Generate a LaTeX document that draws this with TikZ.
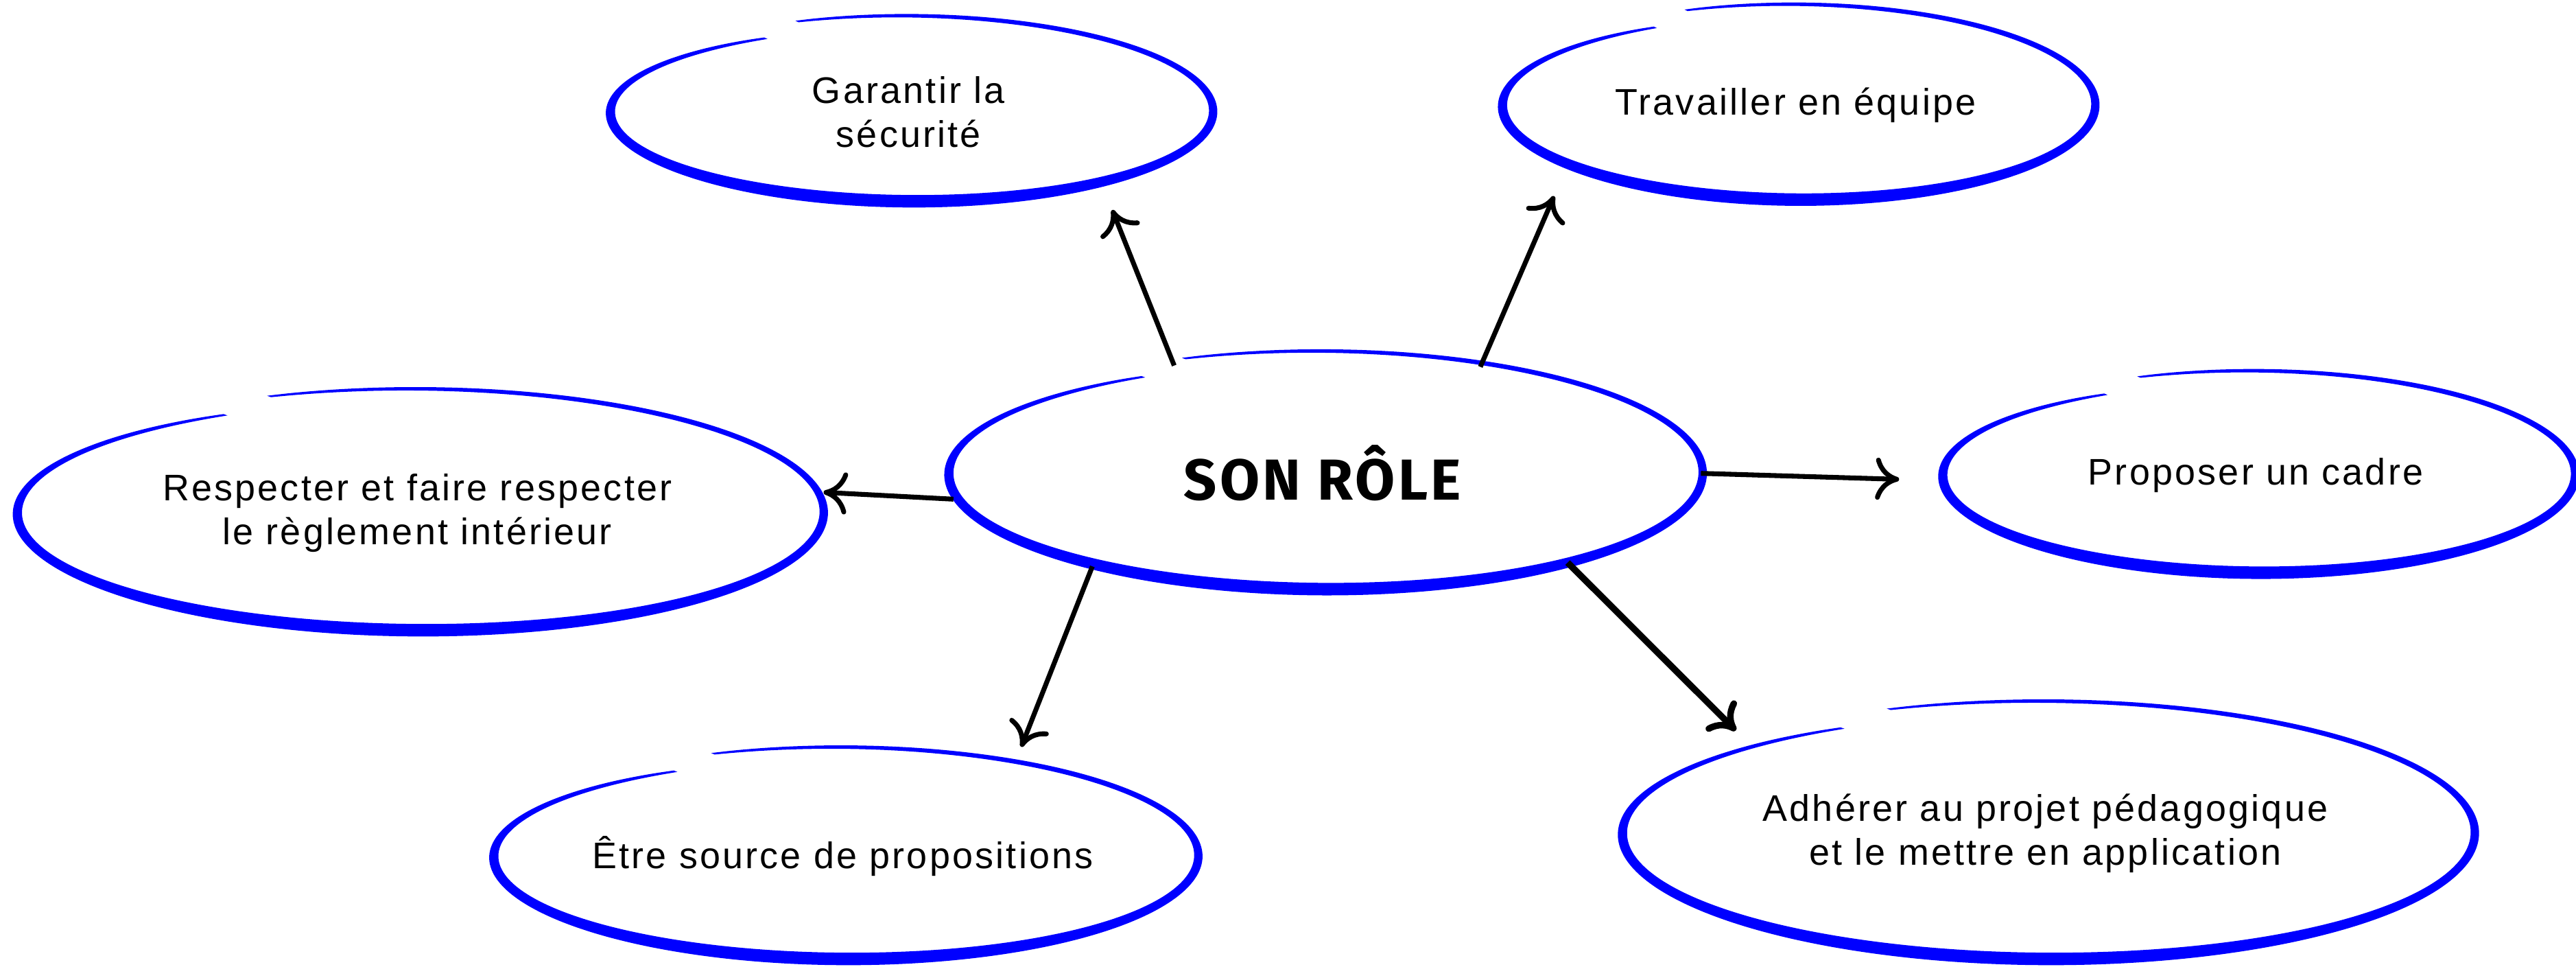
\documentclass[tikz,border=0pt]{standalone}
\usepackage{fontspec}
\setmainfont{Liberation Sans}[LetterSpace=6]
\newfontfamily\titrefont{Fira Sans}[LetterSpace=5]
\usetikzlibrary{shapes.geometric,arrows.meta}

\begin{document}
\begin{tikzpicture}[x=0.025cm, y=-0.025cm,
    idee/.style={ellipse, inner sep=0pt, align=center, font=\fontsize{16}{19}\selectfont},
    fleche/.style={line width=2.1pt, -{Computer Modern Rightarrow[length=3.6mm,width=6.4mm]}},
    bulle/.style={fill=blue}]
    \useasboundingbox (0,0) rectangle (1568,588);

    % Bulles (trait a main levee)
    \foreach \cx/\cy/\ra/\rb in {805/288/230/71, 553/68/184/55, 1093/64/181/58,
                                 1373/289/193/60, 254/312/246/72, 513/521/215/63, 1245/507/260/77}
        \fill[bulle] plot[domain=0.01:0.99, samples=120, smooth]
            ({\cx+(\ra+4-8*\x+(1.6+4*\x*sin(180*\x))*sin(180*\x)^0.3)*cos(245+360*\x)},
             {\cy+(\rb+4-8*\x+(1.6+4*\x*sin(180*\x))*sin(180*\x)^0.3)*sin(245+360*\x)})
            -- plot[domain=0.99:0.01, samples=120, smooth]
            ({\cx+(\ra+4-8*\x-(1.6+4*\x*sin(180*\x))*sin(180*\x)^0.3)*cos(245+360*\x)},
             {\cy+(\rb+4-8*\x-(1.6+4*\x*sin(180*\x))*sin(180*\x)^0.3)*sin(245+360*\x)})
            -- cycle;

    % Centre
    \node[idee, minimum width=11.5cm, minimum height=3.55cm] (role) at (805,288)
        {\titrefont\bfseries\fontsize{25}{30}\selectfont SON RÔLE};

    % Idees
    \node[idee, minimum width=9.2cm, minimum height=2.75cm] (securite) at (553,68) {Garantir la\\sécurité};
    \node[idee, minimum width=9.05cm, minimum height=2.9cm] (equipe) at (1093,64) {Travailler en équipe};
    \node[idee, minimum width=9.65cm, minimum height=3cm] (cadre) at (1373,289) {Proposer un cadre};
    \node[idee, minimum width=12.3cm, minimum height=3.6cm] (reglement) at (254,312)
        {Respecter et faire respecter\\le règlement intérieur};
    \node[idee, minimum width=10.75cm, minimum height=3.15cm] (source) at (513,521) {Être source de propositions};
    \node[idee, minimum width=13cm, minimum height=3.85cm] (projet) at (1245,507)
        {Adhérer au projet pédagogique\\et le mettre en application};

    % Fleches
    \draw[fleche, shorten >=0.46cm] (role.144) -- (securite.340);
    \draw[fleche, shorten >=0.49cm] (role.34) -- (equipe.195);
    \draw[fleche, shorten >=0.6cm] (role.0) -- (cadre.181);
    \draw[fleche, shorten >=0.12cm] (role.184) -- (reglement.3);
    \draw[fleche, shorten >=0.3cm] (role.202) -- (source.28);
    \draw[fleche, line width=2.8pt, shorten >=0.25cm] (role.340) -- (projet.163);
\end{tikzpicture}
\end{document}
